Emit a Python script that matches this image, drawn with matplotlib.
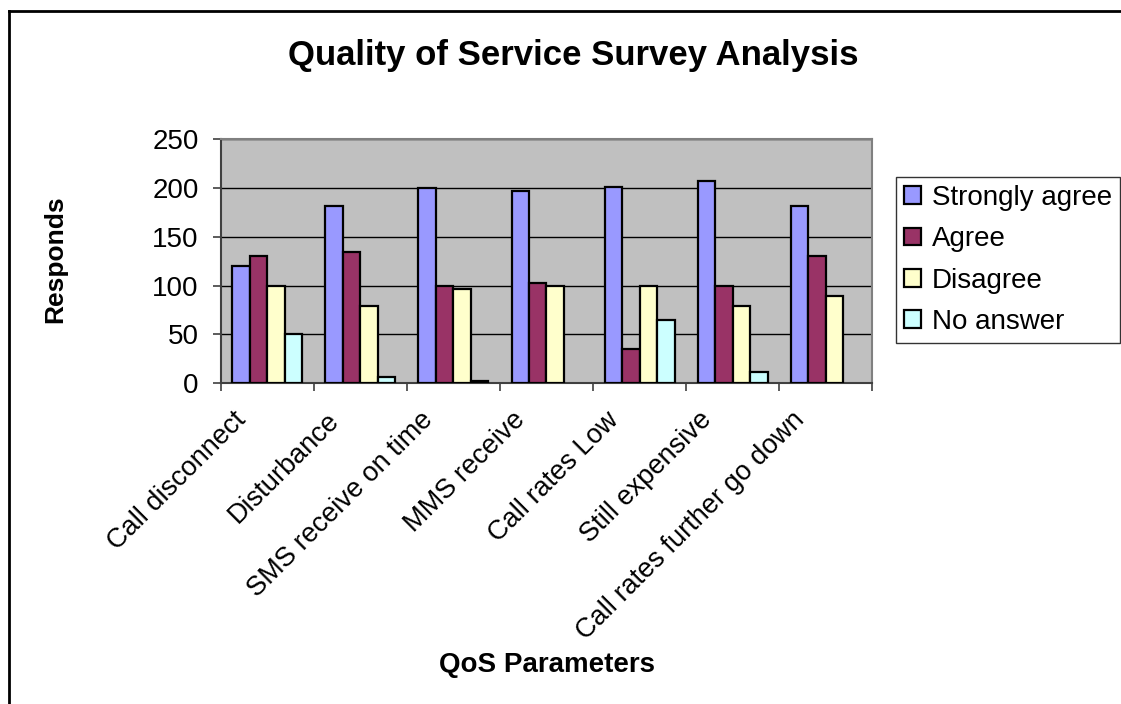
import numpy as np
import matplotlib
matplotlib.use('Agg')
import matplotlib.pyplot as plt
from matplotlib.lines import Line2D
from matplotlib.transforms import ScaledTranslation

plt.rcParams['font.family'] = ['Liberation Sans', 'DejaVu Sans']

# Survey counts per QoS parameter
parameters = ['Call disconnect', 'Disturbance', 'SMS receive on time', 'MMS receive',
              'Call rates Low', 'Still expensive', 'Call rates further go down']
series = ['Strongly agree', 'Agree', 'Disagree', 'No answer']
strongly_agree = [120, 181, 200, 197, 201, 207, 181]
agree = [130, 134, 100, 103, 35, 100, 130]
disagree = [100, 79, 97, 100, 100, 79, 89]
no_answer = [50, 6, 2, 0, 65, 12, 0]
yticks = [0, 50, 100, 150, 200, 250]

colors = ['#9999FF', '#993366', '#FFFFCC', '#CCFFFF']


def main():
    fig = plt.figure(figsize=(11.21, 7.04), dpi=100)
    ax = fig.add_axes([0.197, 0.4555, 0.581, 0.3471])
    ax.set_facecolor('#C0C0C0')

    x = np.arange(len(parameters))
    width = 0.188
    values = [strongly_agree, agree, disagree, no_answer]
    for i, (name, vals, col) in enumerate(zip(series, values, colors)):
        offset = (i - 1.5) * width
        # empty answers get no outline, so nothing shows on the baseline
        lw = [1.6 if v > 0 else 0 for v in vals]
        ax.bar(x + offset, vals, width, color=col, edgecolor='black',
               linewidth=lw, label=name, zorder=3)

    ax.set_xlim(-0.5, len(parameters) - 0.5)
    ax.set_ylim(0, 250)
    ax.set_yticks(yticks)
    ax.yaxis.grid(True, color='black', linewidth=1.0, zorder=1)
    ax.set_axisbelow(True)

    # category boundaries get the tick marks, names sit at the centres
    ax.set_xticks(np.arange(len(parameters) + 1) - 0.5)
    ax.set_xticklabels([])
    ax.set_xticks(x, minor=True)
    ax.set_xticklabels(parameters, minor=True, rotation=45, ha='right',
                       va='top', rotation_mode='anchor', fontsize=19.5)
    ax.tick_params(axis='x', which='minor', length=0, pad=12)
    ax.tick_params(axis='x', which='major', length=6, width=1.2, color='#404040')
    ax.tick_params(axis='y', length=6, width=1.2, labelsize=20, pad=10, color='#404040')
    shift = ScaledTranslation(-34 / 100, -7 / 100, fig.dpi_scale_trans)
    for lbl in ax.get_xticklabels(minor=True):
        lbl.set_transform(lbl.get_transform() + shift)

    for side in ['top', 'right']:
        ax.spines[side].set_color('#808080')
        ax.spines[side].set_linewidth(1.5)
    ax.spines['left'].set_color('#404040')
    ax.spines['left'].set_linewidth(1.5)
    ax.spines['bottom'].set_color('#404040')
    ax.spines['bottom'].set_linewidth(1.5)

    fig.text(0.5116, 0.921, 'Quality of Service Survey Analysis', ha='center',
             va='center', fontsize=25, fontweight='bold')
    fig.text(0.488, 0.055, 'QoS Parameters', ha='center', va='center',
             fontsize=20, fontweight='bold')
    fig.text(0.049, 0.632, 'Responds', ha='center', va='center', rotation=90,
             fontsize=19, fontweight='bold')

    leg = ax.legend(loc='upper left', bbox_to_anchor=(0.799, 0.749),
                    bbox_transform=fig.transFigure, fontsize=20, frameon=True,
                    fancybox=False, handlelength=0.6, handleheight=0.6,
                    handletextpad=0.4, labelspacing=0.55, borderpad=0.3,
                    borderaxespad=0)
    leg.get_frame().set_edgecolor('black')
    leg.get_frame().set_linewidth(1.0)

    # outer chart frame (only top and left edges fall inside the image)
    fig.add_artist(Line2D([0.008, 1.0], [0.984, 0.984], color='black',
                          linewidth=2, transform=fig.transFigure))
    fig.add_artist(Line2D([0.008, 0.008], [0.0, 0.984], color='black',
                          linewidth=2, transform=fig.transFigure))

    fig.savefig('out.png', dpi=100)


if __name__ == '__main__':
    main()
